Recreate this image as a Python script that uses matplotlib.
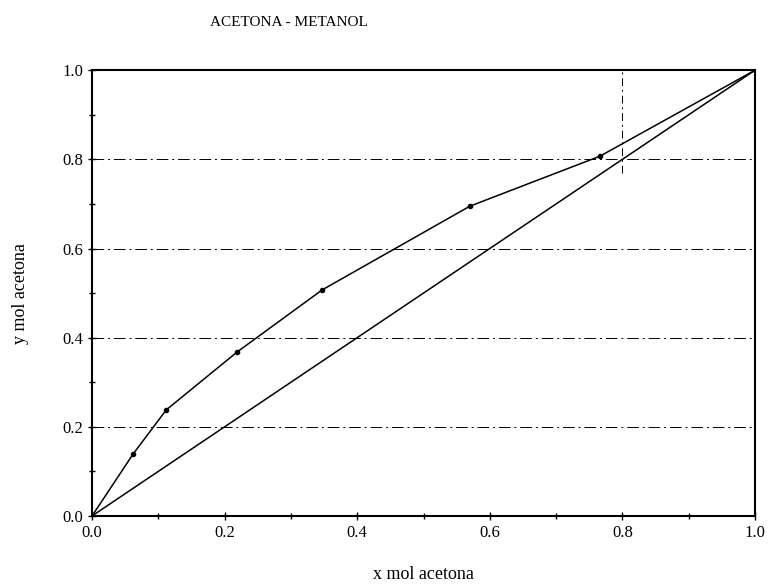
import numpy as np
import matplotlib.pyplot as plt

# equilibrium data acetona - metanol
x_eq = [0.0, 0.062, 0.112, 0.219, 0.347, 0.570, 0.766, 1.0]
y_eq = [0.0, 0.139, 0.238, 0.368, 0.507, 0.695, 0.807, 1.0]
diag = [0.0, 1.0]
grid_y = [0.2, 0.4, 0.6, 0.8]

plt.rcParams['font.family'] = ['Liberation Serif', 'DejaVu Serif']

fig = plt.figure(figsize=(7.7, 5.85), dpi=100)
ax = fig.add_axes([0.1195, 0.118, 0.861, 0.762])

for g in grid_y:
    ax.axhline(g, color='black', linewidth=0.7, linestyle=(0, (12, 4, 2, 4)))
ax.plot([0.8, 0.8], [0.77, 1.0], color='black', linewidth=0.7, linestyle=(0, (8, 4, 2, 4)))

ax.plot(diag, diag, color='black', linewidth=1.1)
ax.plot(x_eq, y_eq, color='black', linewidth=1.1, marker='o', markersize=3)

ax.set_xlim(0, 1)
ax.set_ylim(0, 1)
ax.set_xticks(np.arange(0, 1.01, 0.2))
ax.set_yticks(np.arange(0, 1.01, 0.2))
ax.set_xticks(np.arange(0.1, 1.0, 0.2), minor=True)
ax.set_yticks(np.arange(0.1, 1.0, 0.2), minor=True)
ax.tick_params(which='both', direction='inout', length=6, width=1.0, labelsize=12)
ax.tick_params(which='minor', length=4)
for s in ax.spines.values():
    s.set_linewidth(1.5)

ax.set_xlabel('x mol acetona', fontsize=13, labelpad=18)
ax.set_ylabel('y mol acetona', fontsize=13, labelpad=24)
fig.text(0.375, 0.962, 'ACETONA - METANOL', fontsize=11, ha='center', va='center')

fig.savefig('out.png', dpi=100)
